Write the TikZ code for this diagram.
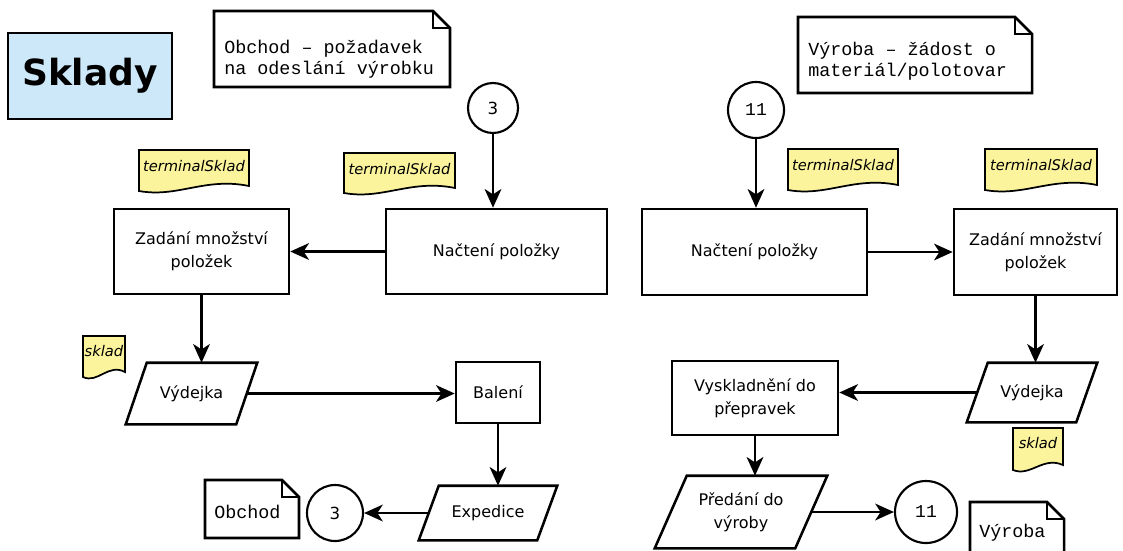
\documentclass[tikz,border=0pt]{standalone}
\usepackage{fontspec}
\setmainfont{DejaVu Sans}
\newfontfamily\codefont{Liberation Mono}
\usetikzlibrary{arrows.meta,calc}
\definecolor{tagfill}{HTML}{FBF49C}
\definecolor{titlefill}{HTML}{CDE8F9}

\tikzset{
  px/.style 2 args={minimum width=#1*0.75pt, minimum height=#2*0.75pt},
  procbox/.style={draw, line width=1.9pt, fill=white, inner sep=0pt, align=center,
    font=\fontsize{12}{17.5}\selectfont},
  iobox/.style={inner sep=0pt, align=center, font=\fontsize{12}{17.5}\selectfont},
  ioline/.style={draw, line width=1.9pt, line join=miter},
  connector/.style={circle, draw, line width=1.6pt, fill=white, inner sep=0pt},
  flow/.style={line width=1.9pt, -{Stealth[length=14pt,width=12.5pt,inset=4pt]}},
  noteline/.style={draw, line width=1.9pt, fill=white},
  foldline/.style={line width=0.9pt},
  notetext/.style={inner sep=0pt, align=left, font=\codefont\fontsize{13.8}{15.5}\selectfont},
  tagline/.style={draw, line width=1.3pt, fill=tagfill},
  tagtext/.style={inner sep=0pt, font=\itshape\fontsize{11}{12}\selectfont},
}

% parallelogram outline around a named node; #2 = half of the lean in px
\newcommand\paraframe[2]{%
  \draw[ioline] ($(#1.north west)+(#2,0)$) -- ($(#1.north east)+(#2,0)$)
    -- ($(#1.south east)-(#2,0)$) -- ($(#1.south west)-(#2,0)$) -- cycle;}
% note sheet with a folded top right corner
\newcommand\notesheet[4]{%
  \draw[noteline] (#1,#2) -- ({#3-17},#2) -- (#3,{#2+17}) -- (#3,#4) -- (#1,#4) -- cycle;
  \draw[foldline] ({#3-17},#2) -- ({#3-17},{#2+17}) -- (#3,{#2+17});}
% yellow document tag with a wavy lower edge
\newcommand\tagsheet[4]{%
  \pgfmathsetmacro\tagw{#3-#1}
  \draw[tagline] (#1,#2) -- (#3,#2) -- (#3,{#4-5})
    .. controls ({#3-0.4*\tagw},{#4-14}) and ({#1+0.35*\tagw},{#4+7}) .. (#1,#4) -- cycle;}

\begin{document}
\begin{tikzpicture}[x=0.75pt,y=-0.75pt]
\clip (0,0) rectangle (1123,550);
\fill[white] (0,0) rectangle (1123,550);

% title
\node[draw, line width=1.9pt, fill=titlefill, px={164}{86},
  font=\bfseries\fontsize{27}{30}\selectfont] (title) at (90,76) {Sklady};

% ---------- shop branch ----------
\notesheet{214}{11}{450}{87}
\node[notetext, anchor=west] (req) at (224,59) {Obchod – požadavek\\na odeslání výrobku};
\node[connector, minimum size=50*0.75pt, font=\fontsize{12.5}{14}\selectfont] (inA) at (493,108) {3};

\tagsheet{139}{150}{249}{191}
\node[tagtext] (tagA) at (194,166) {terminalSklad};
\tagsheet{344}{153}{455}{193}
\node[tagtext] (tagB) at (399.5,169) {terminalSklad};

\node[procbox, px={175}{85}] (zadL) at (201.5,251.5) {Zadání množství\\položek};
\node[procbox, px={221}{85}] (nacL) at (496.5,251.5) {Načtení položky};

\tagsheet{83}{336}{125}{377}
\node[tagtext] (tagC) at (104,351) {sklad};

\node[iobox, px={110}{61}] (vydL) at (191.5,393.5) {Výdejka};
\paraframe{vydL}{10.5}
\node[procbox, px={84}{61}] (bal) at (498,392.5) {Balení};
\node[iobox, px={118}{54}] (exp) at (488,513) {Expedice};
\paraframe{exp}{10}
\node[connector, minimum size=56*0.75pt, font=\fontsize{12.5}{14}\selectfont] (outA) at (335,513) {3};
\notesheet{205}{480}{299}{538}
\node[notetext, anchor=west] (toShop) at (214,512) {Obchod};

% ---------- production branch ----------
\notesheet{798}{17}{1032}{93}
\node[notetext, anchor=west] (mat) at (808,61) {Výroba – žádost o\\materiál/polotovar};
\node[connector, minimum size=56*0.75pt, font=\codefont\fontsize{13.5}{15}\selectfont] (inB) at (756,110) {11};

\tagsheet{788}{149}{898}{190}
\node[tagtext] (tagD) at (843,165) {terminalSklad};
\tagsheet{985}{149}{1097}{190}
\node[tagtext] (tagE) at (1041,165) {terminalSklad};

\node[procbox, px={225}{86}] (nacR) at (754.5,252) {Načtení položky};
\node[procbox, px={163}{86}] (zadR) at (1035.5,252) {Zadání množství\\položek};

\node[iobox, px={109}{59}] (vydR) at (1032,392.5) {Výdejka};
\paraframe{vydR}{10.5}
\tagsheet{1013}{428}{1063}{470}
\node[tagtext] (tagF) at (1038,443) {sklad};

\node[procbox, px={166}{74}] (vysk) at (755,398) {Vyskladnění do\\přepravek};
\node[iobox, px={140}{72}] (pred) at (741,512) {Předání do\\výroby};
\paraframe{pred}{16}
\node[connector, minimum size=62*0.75pt, font=\codefont\fontsize{13.5}{15}\selectfont] (outB) at (926,512) {11};
\notesheet{970}{502}{1064}{570}
\node[notetext, anchor=west] (toProd) at (979,533) {Výroba};

% ---------- flow ----------
\draw[flow] (inA) -- (inA |- nacL.north);
\draw[flow] (nacL.west) -- (zadL.east);
\draw[flow] (zadL.south) -- (zadL.south |- vydL.north);
\draw[flow] (vydL.east) -- (vydL.east -| bal.west);
\draw[flow] (bal.south) -- (bal.south |- exp.north);
\draw[flow] (exp.west) -- (outA.east);

\draw[flow] (inB) -- (inB |- nacR.north);
\draw[flow] (nacR.east) -- (zadR.west);
\draw[flow] (zadR.south) -- (zadR.south |- vydR.north);
\draw[flow] (vydR.west) -- (vydR.west -| vysk.east);
\draw[flow] (vysk.south) -- (vysk.south |- pred.north);
\draw[flow] (pred.east) -- (outB.west);
\end{tikzpicture}
\end{document}
